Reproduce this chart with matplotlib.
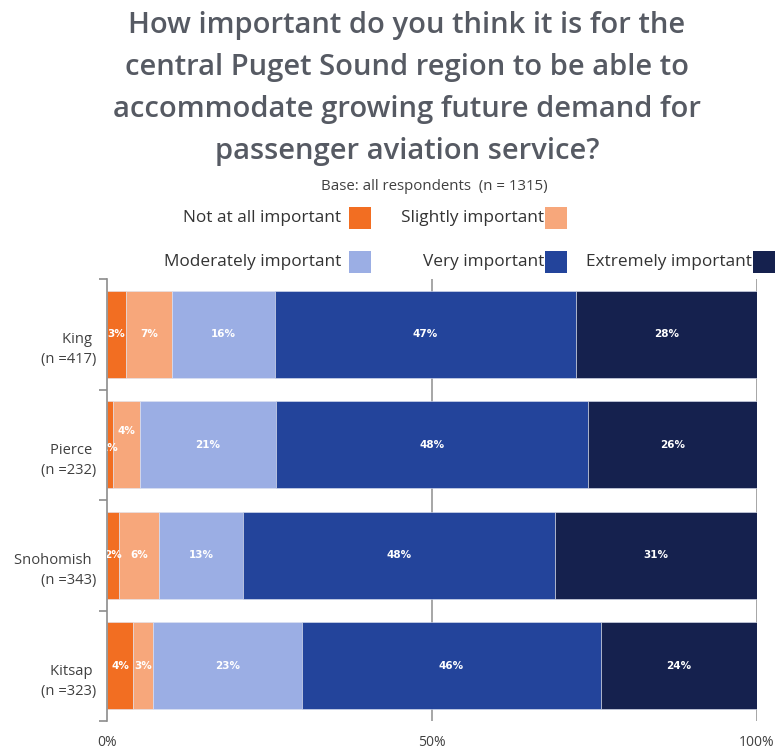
import matplotlib
matplotlib.use("Agg")
import matplotlib.pyplot as plt
from matplotlib.patches import Rectangle
from matplotlib.transforms import ScaledTranslation
import numpy as np

# ---------------- data ----------------
regions = ["King", "Pierce", "Snohomish", "Kitsap"]
sample_sizes = [417, 232, 343, 323]
categories = ["Not at all important", "Slightly important", "Moderately important",
              "Very important", "Extremely important"]
not_at_all = [2.9, 0.9, 1.9, 4.0]
slightly = [7.1, 4.2, 6.1, 3.1]
moderately = [15.8, 20.9, 12.9, 22.9]
very = [46.3, 48.0, 48.0, 46.0]
extremely = [27.9, 26.0, 31.1, 24.0]
labels_shown = [
    ["3%", "7%", "16%", "47%", "28%"],
    ["1%", "4%", "21%", "48%", "26%"],
    ["2%", "6%", "13%", "48%", "31%"],
    ["4%", "3%", "23%", "46%", "24%"],
]
xticks = [0, 50, 100]
xtick_labels = ["0%", "50%", "100%"]

title_lines = ["How important do you think it is for the",
               "central Puget Sound region to be able to",
               "accommodate growing future demand for",
               "passenger aviation service?"]
subtitle = "Base: all respondents  (n = 1315)"

colors = ["#F26E22", "#F7A77B", "#9BAEE4", "#23449B", "#15214E"]

# ---------------- figure ----------------
W, H = 777, 751
fig = plt.figure(figsize=(W / 100, H / 100), dpi=100)
fig.patch.set_facecolor("white")

def fx(px):
    return px / W

def fy(py):
    return 1 - py / H

ax = fig.add_axes([fx(107), fy(721), fx(757) - fx(107), fy(279) - fy(721)])

series = [not_at_all, slightly, moderately, very, extremely]
y = np.arange(len(regions))
left = np.zeros(len(regions))
bar_h = 0.79
for si, (vals, col) in enumerate(zip(series, colors)):
    vals = np.array(vals)
    ax.barh(y, vals, left=left, height=bar_h, color=col, edgecolor="#dfe4f2",
            linewidth=0.4, zorder=2)
    for ri in range(len(regions)):
        cx = left[ri] + vals[ri] / 2
        cy = y[ri]
        # shift label up if the previous segment is too thin (labels overlap)
        if si > 0 and series[si - 1][ri] < 1.5:
            cy -= 0.12
        elif vals[ri] < 1.5:
            cy += 0.03
        ax.text(cx, cy, labels_shown[ri][si], ha="center", va="center",
                color="white", fontsize=7.5, fontweight="bold",
                family="DejaVu Sans", clip_on=True, zorder=3)
    left += vals

ax.set_xlim(0, 100)
ax.set_ylim(len(regions) - 0.5, -0.5)

# grid lines at 50% and 100%
for gx in xticks[1:]:
    ax.axvline(gx, color="#a6a6a6", linewidth=1.4, zorder=1)

ax.set_xticks(xticks)
ax.set_xticklabels(xtick_labels)
ax.tick_params(axis="x", length=0, pad=10, labelsize=10, labelcolor="#404040")
for t in ax.get_xticklabels():
    t.set_family("Open Sans")

ax.set_yticks(y)
ax.set_yticklabels([f"{r} \n(n ={n})" for r, n in zip(regions, sample_sizes)],
                   fontsize=10.6, color="#404040", family="Open Sans",
                   linespacing=1.45)
ax.tick_params(axis="y", length=0, pad=8)
off = ScaledTranslation(0, -11 / 100, fig.dpi_scale_trans)
for t in ax.get_yticklabels():
    t.set_transform(t.get_transform() + off)
ax.set_yticks(np.arange(-0.5, len(regions)), minor=True)
ax.tick_params(axis="y", which="minor", length=6, color="#8c8c8c", width=1.2)

for s in ["top", "right", "bottom"]:
    ax.spines[s].set_visible(False)
ax.spines["left"].set_color("#8c8c8c")
ax.spines["left"].set_linewidth(1.2)

# ---------------- title ----------------
for line, ty in zip(title_lines, [25, 68, 110, 152]):
    fig.text(fx(407), fy(ty), line, ha="center", va="center", fontsize=21,
             fontweight="semibold", family="Open Sans", color="#565a63")
fig.text(fx(434), fy(186), subtitle, ha="center", va="center", fontsize=10.8,
         family="Open Sans", color="#404040")

# ---------------- legend ----------------
sq = 22
legend_pos = [(349, 218), (545, 218), (349, 262), (545, 262), (753, 262)]
legend_gap = [8, 1, 8, 1, 1]
for cat, col, (sx, sy), gap in zip(categories, colors, legend_pos, legend_gap):
    fig.patches.append(Rectangle((fx(sx), fy(sy + sq / 2)), fx(sq), sq / H,
                                 transform=fig.transFigure, facecolor=col,
                                 edgecolor="none"))
    fig.text(fx(sx - gap), fy(sy), cat, ha="right", va="center", fontsize=12.4,
             family="Open Sans", color="#333333")

fig.savefig("out.png", dpi=100, facecolor="white")
